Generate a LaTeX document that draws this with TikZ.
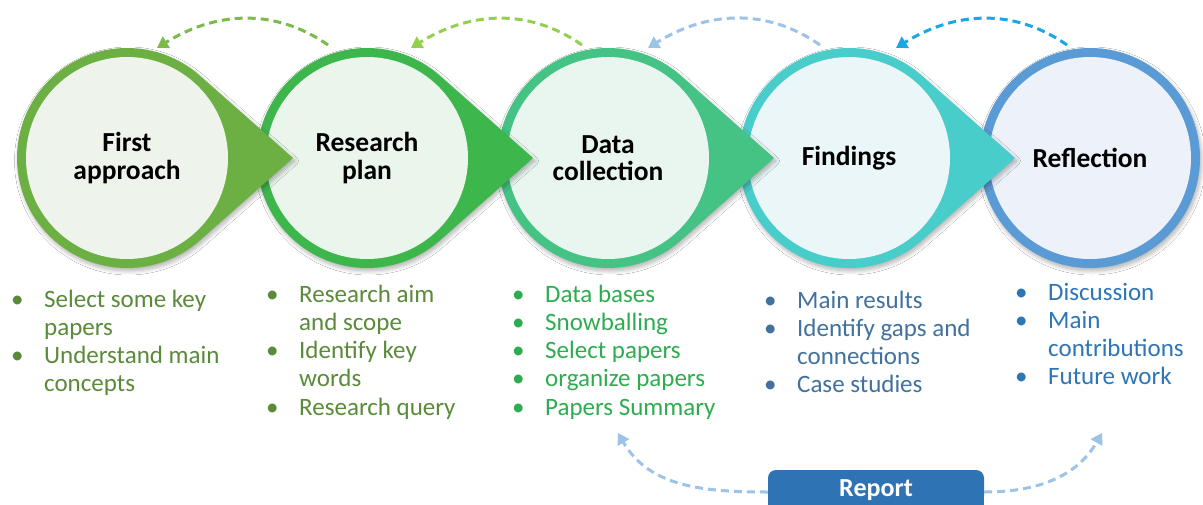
\documentclass[tikz,border=0pt]{standalone}
\usepackage{fontspec}
\setmainfont{Carlito}
\usetikzlibrary{arrows.meta,shadows.blur,calc}

% ring / face colours of the five stages
\definecolor{ringA}{HTML}{6CB043}
\definecolor{ringB}{HTML}{3DB74C}
\definecolor{ringC}{HTML}{45C384}
\definecolor{ringD}{HTML}{49CDCB}
\definecolor{ringE}{HTML}{5B9BD5}
\definecolor{faceA}{HTML}{EEF4EB}
\definecolor{faceB}{HTML}{EAF5EC}
\definecolor{faceC}{HTML}{E9F6EF}
\definecolor{faceD}{HTML}{EAF6F7}
\definecolor{faceE}{HTML}{EDF2FA}
% bullet list colours
\definecolor{txtA}{HTML}{5A8A3A}
\definecolor{txtC}{HTML}{2EAD50}
\definecolor{txtD}{HTML}{41719C}
\definecolor{txtE}{HTML}{2E75B6}
% feedback arrows
\definecolor{arrA}{HTML}{7DBA4C}
\definecolor{arrB}{HTML}{92D050}
\definecolor{arrC}{HTML}{9DC3E6}
\definecolor{arrD}{HTML}{1BA6E4}
\definecolor{reportblue}{HTML}{2E74B5}

\newcommand\bul{\makebox[33pt][l]{\textbullet}}
\newcommand\ind{\hspace*{33pt}}

\tikzset{
  stagetitle/.style={circle, minimum size=220pt, inner sep=0pt, align=center,
    font=\fontsize{27.5}{27.5}\selectfont\bfseries, text=black},
  bulletlist/.style={anchor=base west, inner sep=0pt,
    font=\fontsize{25}{28.3}\selectfont},
  stageshadow/.style={blur shadow={shadow xshift=1.5pt, shadow yshift=-3pt,
    shadow blur radius=4pt, shadow blur steps=8, shadow opacity=30}},
  feedback/.style={line width=3pt, dash pattern=on 8pt off 5pt,
    -{Triangle[length=11pt,width=13pt]}},
}

% one stage: circle with a pointer towards the next stage
% #1 centre x, #2 ring colour, #3 face colour, #4 node name, #5 title
\newcommand\pointerstage[5]{%
  \begin{scope}[shift={(#1,-158)}]
    \fill[#2, stageshadow] (166,0) -- (48.5:110)
      arc[start angle=48.5, end angle=311.5, radius=110] -- cycle;
    \fill[#3] (0,0) circle[radius=101];
    \node[stagetitle] (#4) at (0,0) {#5};
  \end{scope}}

\begin{document}
\begin{tikzpicture}[x=1pt,y=1pt]
  \useasboundingbox (0,0) rectangle (1203,-504);
  \fill[white] (0,0) rectangle (1203,-504);

  % stages, drawn right to left so each pointer lies over the next circle
  \begin{scope}[shift={(1090,-158)}]
    \fill[ringE, stageshadow] (0,0) circle[radius=110];
    \fill[faceE] (0,0) circle[radius=101];
    \node[stagetitle] (reflection) at (0,0) {Reflection};
  \end{scope}
  \pointerstage{849}{ringD}{faceD}{findings}{Findings}
  \pointerstage{608}{ringC}{faceC}{datacoll}{Data\\collection}
  \pointerstage{367}{ringB}{faceB}{resplan}{Research\\plan}
  \pointerstage{127}{ringA}{faceA}{firstapp}{First\\approach}

  % activities of each stage
  \node[bulletlist, text=txtA] (listA) at (11,-307) {\parbox[t]{230pt}{\raggedright
    \bul Select some key\\\ind papers\\\bul Understand main\\\ind concepts}};
  \node[bulletlist, text=txtA] (listB) at (266,-302) {\parbox[t]{230pt}{\raggedright
    \bul Research aim\\\ind and scope\\\bul Identify key\\\ind words\\\bul Research query}};
  \node[bulletlist, text=txtC] (listC) at (512,-302) {\parbox[t]{230pt}{\raggedright
    \bul Data bases\\\bul Snowballing\\\bul Select papers\\\bul organize papers\\\bul Papers Summary}};
  \node[bulletlist, text=txtD] (listD) at (764,-308) {\parbox[t]{230pt}{\raggedright
    \bul Main results\\\bul Identify gaps and\\\ind connections\\\bul Case studies}};
  \node[bulletlist, text=txtE] (listE) at (1015,-300) {\parbox[t]{230pt}{\raggedright
    \bul Discussion\\\bul Main\\\ind contributions\\\bul Future work}};

  % report box: rounded on top, running on past the lower edge
  \fill[reportblue] (768,-494) rectangle (984,-512);
  \node[fill=reportblue, rounded corners=8pt, minimum width=216pt, minimum height=34pt,
        inner sep=0pt, text=white, font=\fontsize{26}{26}\selectfont\bfseries,
        text height=19pt, text depth=0pt]
        (report) at (876,-487) {Report};

  % feedback loops between neighbouring stages
  \coordinate (fbAs) at (328,-45);  \coordinate (fbAe) at (157,-48);
  \coordinate (fbBs) at (582,-45);  \coordinate (fbBe) at (411,-48);
  \coordinate (fbCs) at (820,-45);  \coordinate (fbCe) at (648,-48);
  \coordinate (fbDs) at (1067,-45); \coordinate (fbDe) at (896,-48);
  \draw[feedback, arrA] (fbAs) to[out=145,in=32] (fbAe);
  \draw[feedback, arrB] (fbBs) to[out=145,in=32] (fbBe);
  \draw[feedback, arrC] (fbCs) to[out=145,in=32] (fbCe);
  \draw[feedback, arrD] (fbDs) to[out=145,in=32] (fbDe);

  % report feeds back to the collection and reflection stages
  \coordinate (repL) at (618,-433);
  \coordinate (repR) at (1102,-433);
  \draw[feedback, arrC] ($(report.west)+(0,-5)$) to[out=180,in=-60] (repL);
  \draw[feedback, arrC] ($(report.east)+(0,-5)$) to[out=0,in=-120] (repR);
\end{tikzpicture}
\end{document}
